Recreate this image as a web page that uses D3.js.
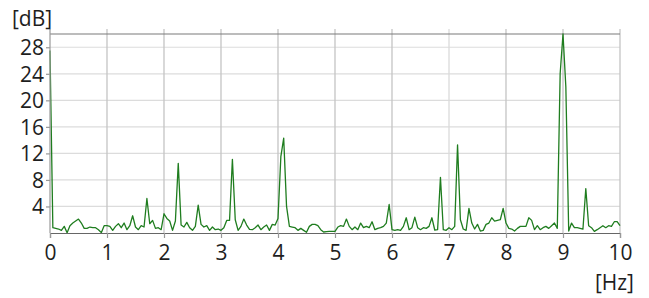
<!DOCTYPE html>
<html>
<head>
<meta charset="utf-8">
<script src="https://cdnjs.cloudflare.com/ajax/libs/d3/7.8.5/d3.min.js"></script>
<style>
body { margin: 0; background: #fff; }
svg text { font-family: "Open Sans", "Noto Sans", sans-serif; fill: #1e1e1e; }
</style>
</head>
<body>
<div></div>
<script>
var w = 649;
var h = 298;
var margin = {top: 34, right: 29, bottom: 65, left: 50};

// spectrum, one value every 0.05 Hz from 0 to 10 Hz
var freqStep = 0.05;
var levels = [
	27.5, 0.8, 0.7, 0.6, 0.4, 1.0, 0.05, 1.1, 1.5, 1.8, 2.1, 1.5, 0.7, 0.7, 0.9, 0.8, 0.8, 0.5, 0.05, 1.1,
	1.1, 1.0, 0.4, 1.0, 1.4, 0.8, 1.5, 0.5, 1.1, 2.6, 0.9, 0.5, 1.1, 0.9, 5.2, 1.4, 1.9, 0.7, 0.8, 0.5,
	2.9, 2.2, 1.8, 0.4, 1.8, 10.5, 1.2, 0.9, 1.6, 0.8, 0.4, 1.0, 4.2, 1.3, 0.9, 1.1, 0.4, 0.9, 0.5, 0.6,
	0.4, 0.8, 1.9, 1.9, 11.1, 2.0, 0.4, 1.0, 2.1, 1.2, 0.55, 0.5, 0.8, 1.2, 0.5, 0.9, 1.2, 0.4, 1.3, 1.2,
	2.2, 11.5, 14.3, 4.0, 1.0, 0.9, 0.8, 0.4, 0.7, 0.4, 0.1, 1.0, 1.3, 1.3, 1.1, 0.5, 0.15, 0.2, 0.25, 0.25,
	0.25, 0.9, 1.1, 1.0, 2.1, 1.0, 0.5, 0.9, 0.5, 1.5, 0.8, 1.0, 0.8, 1.7, 0.5, 0.7, 0.8, 1.0, 1.5, 4.3,
	0.5, 0.4, 0.5, 0.4, 1.0, 2.3, 0.5, 0.8, 2.4, 0.8, 0.5, 0.8, 0.7, 1.0, 2.3, 0.45, 0.5, 8.4, 0.5, 0.4,
	0.8, 0.5, 1.0, 13.3, 2.0, 0.6, 0.4, 3.7, 1.5, 0.6, 1.3, 0.3, 0.4, 1.3, 1.5, 2.3, 1.8, 1.9, 2.0, 3.7,
	1.5, 0.7, 0.6, 0.3, 0.7, 1.0, 1.0, 1.0, 2.3, 1.9, 0.5, 1.1, 0.5, 0.8, 1.0, 0.7, 1.1, 1.5, 0.7, 24,
	30, 22, 0.3, 1.5, 0.8, 0.8, 0.7, 0.6, 6.7, 1.1, 0.8, 0.25, 0.5, 0.8, 1.1, 0.8, 1.1, 1.0, 1.7, 1.7, 1.1
];
var xTicks = [0, 1, 2, 3, 4, 5, 6, 7, 8, 9, 10];
var yTicks = [4, 8, 12, 16, 20, 24, 28];
var yMax = 30;

var svg = d3.select("div").append("svg")
	.attr("width", w)
	.attr("height", h);

var x = d3.scaleLinear().domain([0, 10]).range([margin.left, w - margin.right]);
var y = d3.scaleLinear().domain([0, yMax]).range([h - margin.bottom, margin.top]);

//horizontal grid
svg.append("g")
	.selectAll("line")
	.data(yTicks)
	.enter()
	.append("line")
	.attr("x1", x(0))
	.attr("x2", x(10))
	.attr("y1", function(d) { return y(d); })
	.attr("y2", function(d) { return y(d); })
	.attr("stroke", "#dcdcdc")
	.attr("stroke-width", 1.2);

//vertical grid, sticking out a bit above the top line
svg.append("g")
	.selectAll("line")
	.data(xTicks.slice(1))
	.enter()
	.append("line")
	.attr("x1", function(d) { return x(d); })
	.attr("x2", function(d) { return x(d); })
	.attr("y1", y(yMax) - 5)
	.attr("y2", y(0))
	.attr("stroke", function(d) { return d == 7 ? "#dadada" : "#c4c4c4"; })
	.attr("stroke-width", 1.3);

//top line
svg.append("line")
	.attr("x1", x(0))
	.attr("x2", x(10))
	.attr("y1", y(yMax))
	.attr("y2", y(yMax))
	.attr("stroke", "#7a7a7a")
	.attr("stroke-width", 1.2);

//spectrum
var line = d3.line()
	.x(function(d, i) { return x(i * freqStep); })
	.y(function(d) { return y(d); });

svg.append("path")
	.datum(levels)
	.attr("d", line)
	.attr("fill", "none")
	.attr("stroke", "#1f7d1f")
	.attr("stroke-width", 1.3)
	.attr("stroke-linejoin", "round");

//axes
var xAxis = d3.axisBottom(x).tickValues(xTicks).tickSize(5).tickPadding(7).tickFormat(d3.format("d"));
var yAxis = d3.axisLeft(y).tickValues(yTicks).tickSize(4).tickPadding(2);

var gx = svg.append("g")
	.attr("transform", "translate(0," + y(0) + ")")
	.call(xAxis);
var gy = svg.append("g")
	.attr("transform", "translate(" + x(0) + ",0)")
	.call(yAxis);

gx.select(".domain").attr("stroke", "#666").attr("stroke-width", 1.2);
gy.select(".domain").attr("stroke", "#999").attr("stroke-width", 1.2)
	.attr("d", "M0," + (y(yMax) - 5) + "V" + y(0));
gx.selectAll(".tick line").attr("stroke", "#999").attr("stroke-width", 1.2);
gy.selectAll(".tick line").attr("stroke", "#999").attr("stroke-width", 1.2);
gx.selectAll("text").attr("font-size", 21).attr("font-family", null);
gy.selectAll("text").attr("font-size", 21).attr("font-family", null).attr("dy", "0.35em");

//units
svg.append("text")
	.attr("x", 12)
	.attr("y", 26)
	.attr("font-size", 21)
	.text("[dB]");

svg.append("text")
	.attr("x", 634)
	.attr("y", 290)
	.attr("text-anchor", "end")
	.attr("font-size", 21)
	.text("[Hz]");
</script>
</body>
</html>
